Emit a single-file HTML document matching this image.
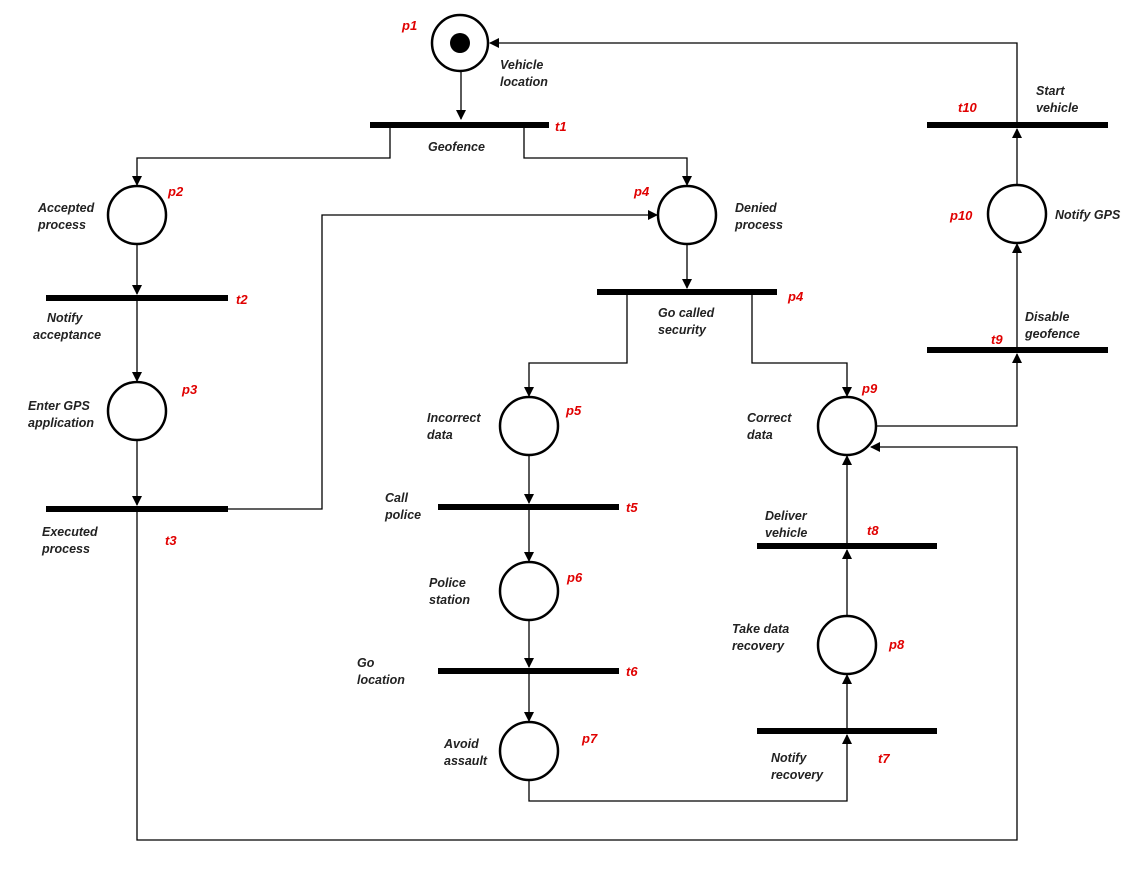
<!DOCTYPE html>
<html><head><meta charset="utf-8"><style>
html,body{margin:0;padding:0;background:#fff;}
svg text{font-family:"Liberation Sans",Arial,sans-serif;font-weight:bold;font-style:italic;font-size:12.5px;fill:#222;}
svg text.r{fill:#e00000;font-size:13px;}
</style></head><body>
<svg width="1144" height="870" viewBox="0 0 1144 870" xmlns="http://www.w3.org/2000/svg">
<defs><marker id="a" markerWidth="10" markerHeight="10" refX="9" refY="5" orient="auto" markerUnits="userSpaceOnUse"><path d="M0,0 L10,5 L0,10 z" fill="#000"/></marker></defs>
<g fill="none" stroke="#000" stroke-width="1.3">
<path d="M461,72 V119" marker-end="url(#a)"/>
<path d="M390,125 V158 H137 V185" marker-end="url(#a)"/>
<path d="M524,125 V158 H687 V185" marker-end="url(#a)"/>
<path d="M137,244 V294" marker-end="url(#a)"/>
<path d="M137,298 V381" marker-end="url(#a)"/>
<path d="M137,440 V505" marker-end="url(#a)"/>
<path d="M228,509 H322 V215 H657" marker-end="url(#a)"/>
<path d="M687,244 V288" marker-end="url(#a)"/>
<path d="M627,292 V363 H529 V396" marker-end="url(#a)"/>
<path d="M752,292 V363 H847 V396" marker-end="url(#a)"/>
<path d="M529,455 V503" marker-end="url(#a)"/>
<path d="M529,507 V561" marker-end="url(#a)"/>
<path d="M529,620 V667" marker-end="url(#a)"/>
<path d="M529,671 V721" marker-end="url(#a)"/>
<path d="M529,780 V801 H847 V735" marker-end="url(#a)"/>
<path d="M847,731 V675" marker-end="url(#a)"/>
<path d="M847,616 V550" marker-end="url(#a)"/>
<path d="M847,546 V456" marker-end="url(#a)"/>
<path d="M876,426 H1017 V354" marker-end="url(#a)"/>
<path d="M1017,350 V244" marker-end="url(#a)"/>
<path d="M1017,185 V129" marker-end="url(#a)"/>
<path d="M1017,125 V43 H490" marker-end="url(#a)"/>
<path d="M137,509 V840 H1017 V447 H871" marker-end="url(#a)"/>
</g>
<g fill="#fff" stroke="#000" stroke-width="2.5">
<circle cx="460" cy="43" r="28"/>
<circle cx="137" cy="215" r="29"/>
<circle cx="687" cy="215" r="29"/>
<circle cx="137" cy="411" r="29"/>
<circle cx="529" cy="426" r="29"/>
<circle cx="847" cy="426" r="29"/>
<circle cx="1017" cy="214" r="29"/>
<circle cx="529" cy="591" r="29"/>
<circle cx="847" cy="645" r="29"/>
<circle cx="529" cy="751" r="29"/>
</g>
<circle cx="460" cy="43" r="10" fill="#000"/>
<g fill="#000">
<rect x="370" y="122" width="179" height="6"/>
<rect x="46" y="295" width="182" height="6"/>
<rect x="46" y="506" width="182" height="6"/>
<rect x="597" y="289" width="180" height="6"/>
<rect x="438" y="504" width="181" height="6"/>
<rect x="438" y="668" width="181" height="6"/>
<rect x="757" y="728" width="180" height="6"/>
<rect x="757" y="543" width="180" height="6"/>
<rect x="927" y="347" width="181" height="6"/>
<rect x="927" y="122" width="181" height="6"/>
</g>
<text class="r" x="402" y="30">p1</text>
<text x="500" y="69">Vehicle</text><text x="500" y="86">location</text>
<text class="r" x="555" y="131">t1</text>
<text x="428" y="151">Geofence</text>
<text class="r" x="168" y="196">p2</text>
<text x="38" y="212">Accepted</text><text x="38" y="229">process</text>
<text class="r" x="634" y="196">p4</text>
<text x="735" y="212">Denied</text><text x="735" y="229">process</text>
<text class="r" x="236" y="304">t2</text>
<text x="47" y="322">Notify</text><text x="33" y="339">acceptance</text>
<text class="r" x="182" y="394">p3</text>
<text x="28" y="410">Enter GPS</text><text x="28" y="427">application</text>
<text x="42" y="536">Executed</text><text x="42" y="553">process</text>
<text class="r" x="165" y="545">t3</text>
<text class="r" x="788" y="301">p4</text>
<text x="658" y="317">Go called</text><text x="658" y="334">security</text>
<text class="r" x="566" y="415">p5</text>
<text x="427" y="422">Incorrect</text><text x="427" y="439">data</text>
<text class="r" x="862" y="393">p9</text>
<text x="747" y="422">Correct</text><text x="747" y="439">data</text>
<text x="385" y="502">Call</text><text x="385" y="519">police</text>
<text class="r" x="626" y="512">t5</text>
<text class="r" x="567" y="582">p6</text>
<text x="429" y="587">Police</text><text x="429" y="604">station</text>
<text x="357" y="667">Go</text><text x="357" y="684">location</text>
<text class="r" x="626" y="676">t6</text>
<text class="r" x="582" y="743">p7</text>
<text x="444" y="748">Avoid</text><text x="444" y="765">assault</text>
<text x="765" y="520">Deliver</text><text x="765" y="537">vehicle</text>
<text class="r" x="867" y="535">t8</text>
<text x="732" y="633">Take data</text><text x="732" y="650">recovery</text>
<text class="r" x="889" y="649">p8</text>
<text x="771" y="762">Notify</text><text x="771" y="779">recovery</text>
<text class="r" x="878" y="763">t7</text>
<text class="r" x="958" y="112">t10</text>
<text x="1036" y="95">Start</text><text x="1036" y="112">vehicle</text>
<text class="r" x="950" y="220">p10</text>
<text x="1055" y="219">Notify GPS</text>
<text x="1025" y="321">Disable</text><text x="1025" y="338">geofence</text>
<text class="r" x="991" y="344">t9</text>
</svg>
</body></html>
